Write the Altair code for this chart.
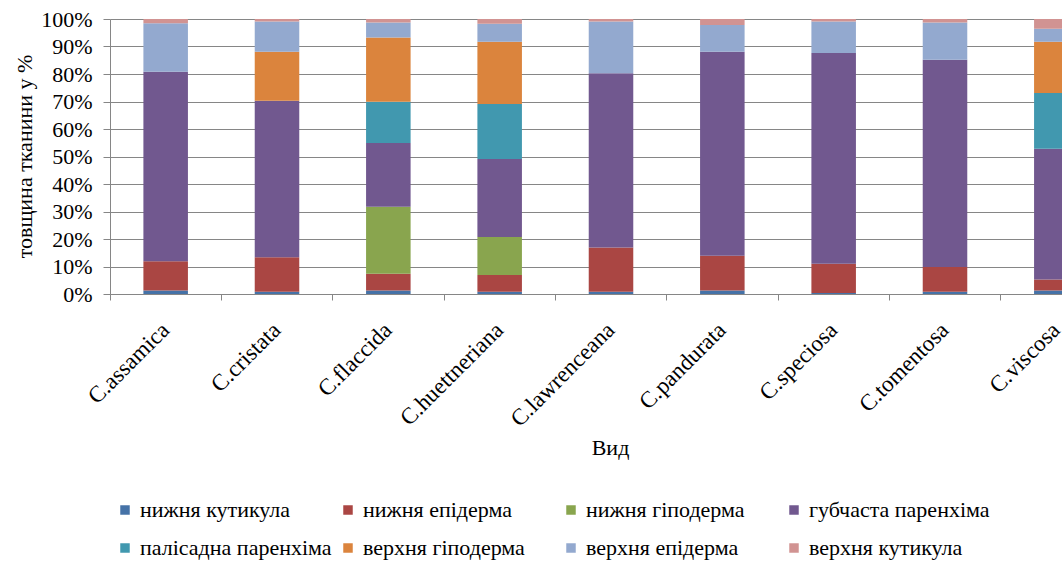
import altair as alt
import pandas as pd

species = ["C.assamica", "C.cristata", "C.flaccida", "C.huettneriana", "C.lawrenceana",
           "C.pandurata", "C.speciosa", "C.tomentosa", "C.viscosa"]

series = ["нижня кутикула", "нижня епідерма", "нижня гіподерма", "губчаста паренхіма",
          "палісадна паренхіма", "верхня гіподерма", "верхня епідерма", "верхня кутикула"]

colors = ["#4572A7", "#AA4643", "#89A54E", "#71588F", "#4198AF", "#DB843D", "#93A9CF", "#D19392"]

# values in % per species, one list per tissue (bottom to top)
lower_cuticle    = [1.3, 0.85, 1.3, 0.85, 0.85, 1.3, 0.4, 0.85, 1.3]
lower_epidermis  = [10.6, 12.55, 6.1, 6.05, 16.05, 12.6, 10.6, 8.95, 4.0]
lower_hypodermis = [0, 0, 24.3, 13.8, 0, 0, 0, 0, 0]
spongy           = [68.9, 56.9, 23.2, 28.4, 63.4, 74.2, 76.6, 75.4, 47.5]
palisade         = [0, 0, 15.0, 20.0, 0, 0, 0, 0, 20.3]
upper_hypodermis = [0, 17.8, 23.4, 22.6, 0, 0, 0, 0, 18.6]
upper_epidermis  = [17.7, 11.0, 5.4, 6.6, 18.8, 9.7, 11.5, 13.5, 4.8]
upper_cuticle    = [1.5, 0.9, 1.3, 1.7, 0.9, 2.2, 0.9, 1.3, 3.5]

all_vals = [lower_cuticle, lower_epidermis, lower_hypodermis, spongy,
            palisade, upper_hypodermis, upper_epidermis, upper_cuticle]

rows = []
for si, (name, vals) in enumerate(zip(series, all_vals)):
    for sp, v in zip(species, vals):
        rows.append({"species": sp, "tissue": name, "value": v, "ord": si})
df = pd.DataFrame(rows)

FONT = "Liberation Serif"
GRID = "#868686"

legend = alt.Legend(
    title=None, orient="none", legendX=4, legendY=480, columns=4, direction="horizontal",
    symbolType="square", symbolSize=90, symbolStrokeWidth=0,
    labelFont=FONT, labelFontSize=22, labelColor="black",
    columnPadding=5, rowPadding=16, gridAlign="all", labelLimit=400, labelOffset=4,
)

chart = alt.Chart(df).mark_bar(width=alt.RelativeBandSize(0.4)).encode(
    x=alt.X("species:N", sort=species,
            scale=alt.Scale(range=[0, 1002], paddingInner=0, paddingOuter=0),
            axis=alt.Axis(title="Вид", labelAngle=-45, labelAlign="right", labelBaseline="middle",
                          labelFont=FONT, labelFontSize=23, labelColor="black", labelPadding=26,
                          bandPosition=0, tickSize=6, tickColor=GRID, domainColor=GRID,
                          titleFont=FONT, titleFontSize=22, titleFontWeight="normal", titleColor="black",
                          titleX=500, titleY=153, titleAlign="center", titleBaseline="middle",
                          grid=False)),
    y=alt.Y("value:Q", stack="normalize",
            scale=alt.Scale(domain=[0, 1], nice=False),
            axis=alt.Axis(title="товщина тканини у %", format="%", values=[i / 10 for i in range(11)],
                          labelFont=FONT, labelFontSize=22, labelColor="black", labelPadding=11,
                          tickSize=7, tickColor=GRID, domainColor=GRID, gridColor=GRID, gridOpacity=1,
                          titleFont=FONT, titleFontSize=22, titleFontWeight="normal", titleColor="black",
                          titleAngle=-90, titleX=-86, titleY=137, titleAlign="center", titleBaseline="middle")),
    color=alt.Color("tissue:N", sort=series,
                    scale=alt.Scale(domain=series, range=colors),
                    legend=legend),
    order=alt.Order("ord:Q", sort="ascending"),
).properties(
    width=952, height=275,
    padding={"left": 110, "top": 19, "right": 0, "bottom": 269},
    autosize=alt.AutoSizeParams(type="none"),
).configure_view(stroke=None).configure(background="white", font=FONT)

chart.save("out.html", embed_options={"renderer": "svg", "actions": False})
